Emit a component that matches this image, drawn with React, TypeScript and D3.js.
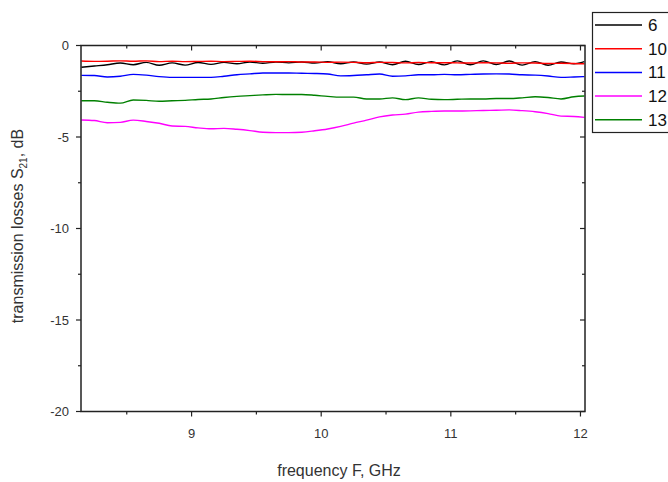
import React from "react";
import * as d3 from "d3";

const freq = [8.15, 8.25, 8.35, 8.45, 8.55, 8.65, 8.75, 8.85, 8.95, 9.05, 9.15, 9.25, 9.35, 9.45, 9.55, 9.65, 9.75, 9.85, 9.95, 10.05, 10.15, 10.25, 10.35, 10.45, 10.55, 10.65, 10.75, 10.85, 10.95, 11.05, 11.15, 11.25, 11.35, 11.45, 11.55, 11.65, 11.75, 11.85, 11.95, 12.03];

const s6 = [-1.19, -1.12, -1.05, -0.96, -1.05, -0.92, -1.08, -0.95, -1.07, -0.93, -1.03, -0.92, -1.0, -0.9, -0.97, -0.9, -0.95, -0.9, -0.96, -0.88, -1.0, -0.9, -1.02, -0.9, -1.05, -0.86, -1.04, -0.88, -1.06, -0.84, -1.05, -0.84, -1.04, -0.85, -1.07, -0.88, -1.08, -0.9, -1.0, -0.88];
const s10 = [-0.85, -0.87, -0.86, -0.84, -0.86, -0.84, -0.88, -0.86, -0.88, -0.87, -0.86, -0.88, -0.87, -0.86, -0.88, -0.89, -0.88, -0.9, -0.9, -0.92, -0.91, -0.92, -0.94, -0.92, -0.93, -0.95, -0.93, -0.94, -0.94, -0.95, -0.96, -0.94, -0.95, -0.97, -0.95, -0.96, -0.98, -0.97, -0.98, -1.0];
const s11 = [-1.63, -1.64, -1.72, -1.68, -1.58, -1.62, -1.7, -1.74, -1.74, -1.74, -1.74, -1.68, -1.6, -1.55, -1.5, -1.5, -1.5, -1.52, -1.53, -1.56, -1.66, -1.64, -1.6, -1.56, -1.68, -1.66, -1.6, -1.6, -1.58, -1.6, -1.58, -1.56, -1.55, -1.56, -1.6, -1.62, -1.67, -1.74, -1.72, -1.7];
const s12 = [-4.07, -4.1, -4.22, -4.2, -4.08, -4.15, -4.25, -4.4, -4.42, -4.5, -4.55, -4.53, -4.58, -4.65, -4.74, -4.76, -4.76, -4.74, -4.66, -4.56, -4.42, -4.24, -4.08, -3.9, -3.8, -3.75, -3.64, -3.6, -3.58, -3.58, -3.57, -3.55, -3.54, -3.52, -3.56, -3.62, -3.72, -3.86, -3.88, -3.93];
const s13 = [-3.02, -3.02, -3.1, -3.15, -2.98, -3.0, -3.05, -3.02, -3.0, -2.95, -2.92, -2.84, -2.78, -2.74, -2.7, -2.67, -2.68, -2.68, -2.72, -2.78, -2.82, -2.82, -2.92, -2.92, -2.86, -2.96, -2.86, -2.94, -2.96, -2.94, -2.92, -2.92, -2.9, -2.9, -2.86, -2.8, -2.84, -2.92, -2.8, -2.76];

const seriesNames = ["6", "10", "11", "12", "13"];
const seriesValues = [s6, s10, s11, s12, s13];
const seriesColors = ["#000000", "#ff0000", "#0000ff", "#ff00ff", "#008000"];

const xTicks = [9, 10, 11, 12];
const xMinor = [8.5, 9.5, 10.5, 11.5];
const yTicks = [0, -5, -10, -15, -20];
const yMinor = [-2.5, -7.5, -12.5, -17.5];

const W = 668, H = 482;
const L = 81, R = 585, T = 45.5, B = 411.5;
const font = "'Liberation Sans', Arial, sans-serif";
const axisColor = "#222";

export default function App() {
  const x = d3.scaleLinear().domain([8.147, 12.035]).range([L, R]);
  const y = d3.scaleLinear().domain([-20, 0]).range([B, T]);
  const line = d3
    .line<number>()
    .x((_, i) => x(freq[i]))
    .y((d) => y(d))
    .curve(d3.curveMonotoneX);
  const drawOrder = [3, 4, 2, 0, 1];

  return (
    <svg width={W} height={H} style={{ position: "absolute", left: 0, top: 0, background: "#fff" }} fontFamily={font}>
      <rect width={W} height={H} fill="#fff" />
      {drawOrder.map((k) => (
        <path key={k} d={line(seriesValues[k]) || ""} fill="none" stroke={seriesColors[k]} strokeWidth={1.4} />
      ))}
      <rect x={L} y={T} width={R - L} height={B - T} fill="none" stroke={axisColor} strokeWidth={1.5} />
      {xTicks.map((t) => (
        <g key={"xt" + t}>
          <line x1={x(t)} x2={x(t)} y1={B} y2={B + 5} stroke={axisColor} strokeWidth={1.2} />
          <line x1={x(t)} x2={x(t)} y1={T} y2={T + 5} stroke={axisColor} strokeWidth={1.2} />
          <text x={x(t)} y={B + 26} textAnchor="middle" fontSize={13} fill="#333">{t}</text>
        </g>
      ))}
      {xMinor.map((t) => (
        <g key={"xm" + t}>
          <line x1={x(t)} x2={x(t)} y1={B} y2={B + 3} stroke={axisColor} strokeWidth={1.2} />
          <line x1={x(t)} x2={x(t)} y1={T} y2={T + 3} stroke={axisColor} strokeWidth={1.2} />
        </g>
      ))}
      {yTicks.map((t) => (
        <g key={"yt" + t}>
          <line x1={L - 5} x2={L} y1={y(t)} y2={y(t)} stroke={axisColor} strokeWidth={1.2} />
          <line x1={R - 5} x2={R} y1={y(t)} y2={y(t)} stroke={axisColor} strokeWidth={1.2} />
          <text x={L - 12} y={y(t) + 4.5} textAnchor="end" fontSize={13} fill="#333">{t}</text>
        </g>
      ))}
      {yMinor.map((t) => (
        <g key={"ym" + t}>
          <line x1={L - 3} x2={L} y1={y(t)} y2={y(t)} stroke={axisColor} strokeWidth={1.2} />
          <line x1={R - 3} x2={R} y1={y(t)} y2={y(t)} stroke={axisColor} strokeWidth={1.2} />
        </g>
      ))}
      <text x={339} y={476} textAnchor="middle" fontSize={16} fill="#333">frequency F, GHz</text>
      <text transform="translate(23,226) rotate(-90)" textAnchor="middle" fontSize={16} fill="#333">
        transmission losses S<tspan fontSize={10} dy={4}>21</tspan><tspan dy={-4}>, dB</tspan>
      </text>
      <rect x={592.5} y={12.5} width={100} height={120} fill="#fff" stroke={axisColor} strokeWidth={1.2} />
      {seriesNames.map((n, i) => (
        <g key={n}>
          <line x1={595} x2={642} y1={25 + i * 23.7} y2={25 + i * 23.7} stroke={seriesColors[i]} strokeWidth={1.5} />
          <text x={648} y={25 + i * 23.7 + 6} fontSize={17} fill="#111">{n}</text>
        </g>
      ))}
    </svg>
  );
}
